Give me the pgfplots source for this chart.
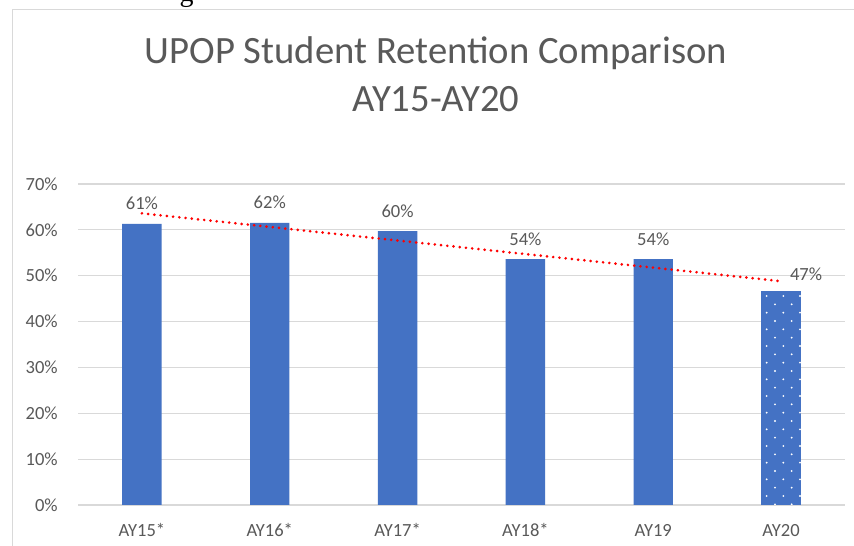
\documentclass[border=0pt]{standalone}
\usepackage{pgfplots}
\pgfplotsset{compat=1.18}
\usepackage{fontspec}
\setmainfont{Carlito}
\newfontfamily\serifg{Liberation Serif}
\usetikzlibrary{patterns}
\definecolor{barblue}{HTML}{4472C4}
\definecolor{textgray}{HTML}{595959}
\definecolor{gridgray}{HTML}{D9D9D9}
\pgfdeclarepatternformonly{sparsedots}{\pgfqpoint{-1pt}{-1pt}}{\pgfqpoint{13.5pt}{13.5pt}}{\pgfqpoint{12.5pt}{12.5pt}}{%
  \pgfpathcircle{\pgfqpoint{0pt}{0pt}}{0.8pt}%
  \pgfpathcircle{\pgfqpoint{6.25pt}{6.25pt}}{0.8pt}%
  \pgfusepath{fill}}
\begin{document}
\begin{tikzpicture}
\useasboundingbox (0,0) rectangle (640.5pt,409.5pt);
\clip (0,0) rectangle (640.5pt,409.5pt);
\fill[white] (0,0) rectangle (640.5pt,409.5pt);
% fragment of text above the chart
\node[anchor=base, inner sep=0pt, font=\serifg\fontsize{21}{24}\selectfont] at (140pt,408pt) {g};
% chart frame
\draw[gridgray, line width=0.75pt] (9pt,-10pt) rectangle (660pt,402pt);
% title
\node[font=\fontsize{29}{31}\selectfont, text=textgray] at (327pt,369.5pt) {UPOP Student Retention Comparison};
\node[font=\fontsize{29}{31}\selectfont, text=textgray] at (327pt,335pt) {AY15-AY20};
\begin{axis}[
  at={(58.5pt,30.75pt)}, anchor=south west,
  scale only axis, width=575.25pt, height=240.75pt,
  xmin=-0.5, xmax=5.5, ymin=0, ymax=70,
  xtick={0,1,2,3,4,5},
  xticklabels={AY15*,AY16*,AY17*,AY18*,AY19,AY20},
  ytick={0,10,20,30,40,50,60,70},
  yticklabel={\pgfmathprintnumber{\tick}\%},
  /pgf/number format/assume math mode=true,
  ymajorgrids, grid style={draw=gridgray, line width=0.9pt},
  axis line style={draw=none},
  major tick length=0pt,
  tick label style={font=\fontsize{13.9}{16}\selectfont, text=textgray, inner sep=0pt},
  yticklabel style={anchor=east, xshift=-15pt},
  xticklabel style={anchor=base, yshift=-23.8pt},
  clip=false,
]
\addplot[ybar, bar width=29.6pt, bar shift=0pt, fill=barblue, draw=none,
  point meta=explicit symbolic,
  nodes near coords,
  every node near coord/.append style={anchor=base, yshift=10.5pt, inner sep=0pt, font=\fontsize{13.9}{16}\selectfont, text=textgray}]
  coordinates {(0,61.3)[61\%] (1,61.5)[62\%] (2,59.7)[60\%] (3,53.6)[54\%] (4,53.6)[54\%]};
\addplot[ybar, bar width=29.6pt, bar shift=0pt, fill=barblue, draw=none,
  postaction={pattern=sparsedots, pattern color=white},
  point meta=explicit symbolic,
  nodes near coords,
  every node near coord/.append style={anchor=base, yshift=7.5pt, xshift=18.75pt, inner sep=0pt, font=\fontsize{13.9}{16}\selectfont, text=textgray}]
  coordinates {(5,46.7)[47\%]};
% linear trendline
\addplot[sharp plot, no markers, red, line width=2.2pt, line cap=round, dash pattern=on 0pt off 4.7pt]
  coordinates {(0,63.6) (5,48.8)};
\end{axis}
\end{tikzpicture}
\end{document}
